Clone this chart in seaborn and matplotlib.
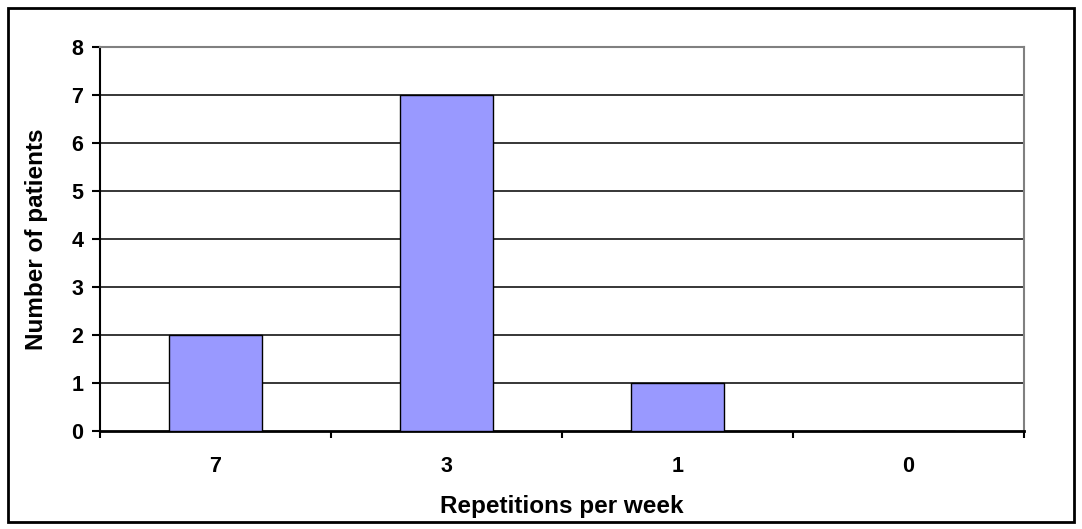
import matplotlib
matplotlib.use("Agg")
import matplotlib.pyplot as plt
import seaborn as sns
import pandas as pd
from matplotlib.patches import Rectangle

# data
repetitions = ["7", "3", "1", "0"]
patients = [2, 7, 1, 0]
y_ticks = [0, 1, 2, 3, 4, 5, 6, 7, 8]

sns.set_style("white")
plt.rcParams['font.family'] = ['Liberation Sans', 'DejaVu Sans']
plt.rcParams['text.color'] = "black"
plt.rcParams['xtick.color'] = "black"
plt.rcParams['ytick.color'] = "black"
plt.rcParams['axes.labelcolor'] = "black"

df = pd.DataFrame({"reps": repetitions, "n": patients})

fig = plt.figure(figsize=(10.82, 5.29), dpi=100)
ax = fig.add_axes([100 / 1082, 1 - 431 / 529, 924 / 1082, 384 / 529])

sns.barplot(data=df, x="reps", y="n", order=repetitions, color="#9999FF",
            saturation=1, width=0.405, edgecolor="black", linewidth=1,
            ax=ax, zorder=3)

ax.set_ylim(0, 8)
ax.set_xlim(-0.5, len(repetitions) - 0.5)
ax.set_yticks(y_ticks)
for y in y_ticks[1:-1]:
    ax.axhline(y, color="black", linewidth=1.1, zorder=1)

# spines like the Excel chart
ax.spines["left"].set_color("black")
ax.spines["left"].set_linewidth(1.5)
ax.spines["bottom"].set_color("black")
ax.spines["bottom"].set_linewidth(2)
ax.spines["top"].set_color("#808080")
ax.spines["top"].set_linewidth(1.5)
ax.spines["right"].set_color("#808080")
ax.spines["right"].set_linewidth(1.5)

# x ticks between categories
ax.set_xticks([i - 0.5 for i in range(len(repetitions) + 1)], minor=True)
ax.tick_params(axis="x", which="minor", direction="out", length=5, width=1.5, color="black", bottom=True)
ax.tick_params(axis="x", which="major", length=0, pad=18, labelsize=15.5)
ax.tick_params(axis="y", direction="out", length=6, width=1.5, color="black", left=True, labelsize=15.5, pad=6)
for lbl in ax.get_xticklabels() + ax.get_yticklabels():
    lbl.set_fontweight("bold")

ax.set_xlabel("Repetitions per week", fontsize=17.5, fontweight="bold")
ax.set_ylabel("Number of patients", fontsize=17.5, fontweight="bold")
ax.xaxis.set_label_coords(0.5, (431 - 507) / 384)
ax.xaxis.label.set_va("center")
ax.yaxis.set_label_coords((37 - 100) / 924, 0.5)
ax.yaxis.label.set_va("center")

# outer chart border
fig.patches.append(Rectangle((8 / 1082, 7 / 529), 1066 / 1082, 514 / 529,
                             transform=fig.transFigure, fill=False,
                             edgecolor="black", linewidth=2))

fig.savefig("out.png", dpi=100)
